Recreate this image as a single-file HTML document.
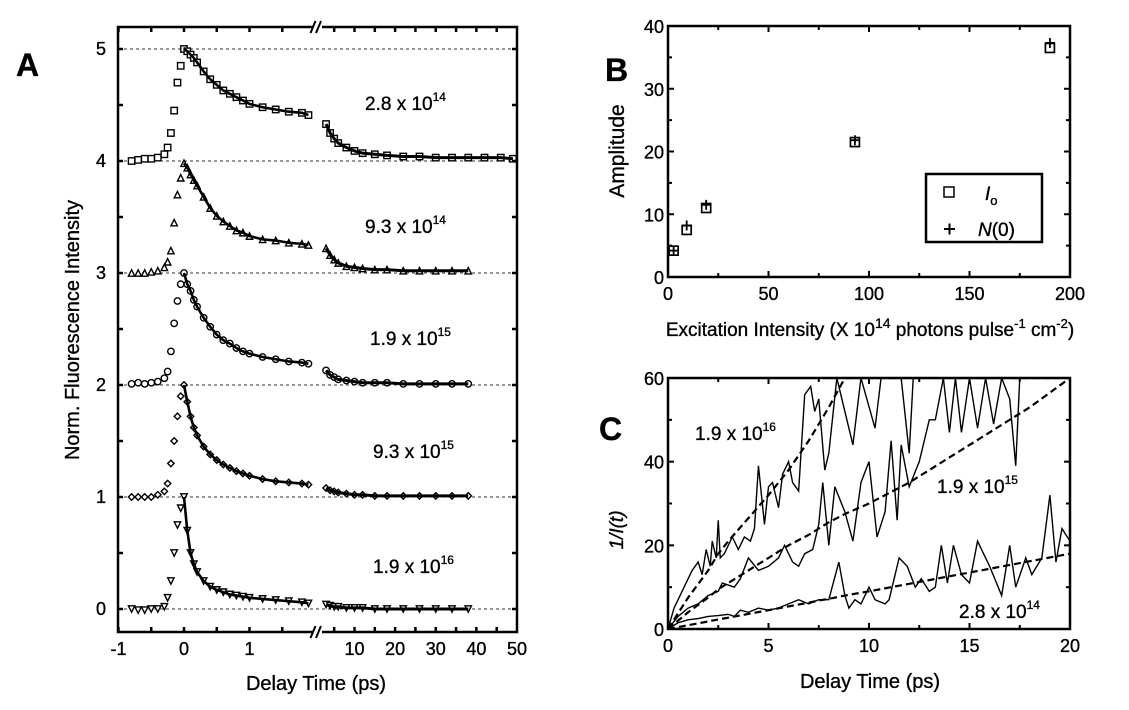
<!DOCTYPE html>
<html><head><meta charset="utf-8"><style>
html,body{margin:0;padding:0;background:#fff;}
svg{display:block;font-family:"Liberation Sans",Arial,sans-serif;}
svg text{stroke:#000;stroke-width:0.35px;}
</style></head><body>
<svg id="fig" width="1129" height="710" viewBox="0 0 1129 710" xmlns="http://www.w3.org/2000/svg">
<g id="pa"></g>
<g id="pb"></g>
<g id="pc"></g>
</svg>
<script>
// ---------- Panel A data ----------
const aTimesL = [-0.8,-0.7,-0.6,-0.5,-0.4,-0.3,-0.25,-0.2,-0.15,-0.1,-0.05,0,0.05,0.1,0.15,0.2,0.3,0.4,0.5,0.6,0.7,0.8,0.9,1.0,1.2,1.4,1.6,1.8,1.9];
const aTimesR = [3,4,5,6,8,10,12,15,18,22,26,30,34,38];
const aTimesRLong = [3,4,5,6,8,10,12,15,18,22,26,30,34,38,42,46,49];
const aOffsets = [4,3,2,1,0];
const aLabels = ["2.8 x 10","9.3 x 10","1.9 x 10","9.3 x 10","1.9 x 10"];
const aExps = ["14","14","15","15","16"];
const aMarkers = ["square","triangle","circle","diamond","itriangle"];
const aL_28e14 = [0,0.01,0.02,0.02,0.03,0.06,0.12,0.25,0.45,0.7,0.85,1.0,0.98,0.95,0.92,0.88,0.8,0.73,0.68,0.63,0.6,0.57,0.54,0.51,0.48,0.46,0.44,0.43,0.41];
const aR_28e14 = [0.33,0.25,0.2,0.16,0.12,0.09,0.07,0.06,0.05,0.04,0.04,0.03,0.03,0.03,0.03,0.03,0.02];
const aL_93e14 = [0,0,0,0.01,0.02,0.05,0.1,0.2,0.45,0.7,0.85,0.98,0.94,0.88,0.83,0.78,0.68,0.58,0.51,0.46,0.42,0.38,0.36,0.33,0.3,0.29,0.27,0.26,0.25];
const aR_93e14 = [0.22,0.16,0.12,0.09,0.06,0.05,0.04,0.03,0.03,0.02,0.02,0.02,0.02,0.02];
const aL_19e15 = [0.01,0.02,0.01,0.02,0.03,0.06,0.12,0.3,0.55,0.75,0.9,1.0,0.9,0.84,0.76,0.7,0.6,0.52,0.45,0.4,0.37,0.33,0.3,0.28,0.25,0.23,0.21,0.2,0.19];
const aR_19e15 = [0.13,0.09,0.07,0.05,0.04,0.03,0.02,0.02,0.02,0.01,0.01,0.01,0.01,0.01];
const aL_93e15 = [0,0,0,0,0.02,0.05,0.12,0.3,0.5,0.72,0.9,1.0,0.85,0.72,0.62,0.55,0.45,0.38,0.33,0.29,0.26,0.23,0.21,0.19,0.16,0.14,0.13,0.12,0.11];
const aR_93e15 = [0.08,0.06,0.05,0.04,0.03,0.02,0.02,0.01,0.01,0.01,0.01,0.01,0.01,0.01];
const aL_19e16 = [0,-0.01,-0.01,0,0,0.02,0.1,0.25,0.5,0.75,0.9,1.0,0.7,0.5,0.4,0.33,0.25,0.2,0.17,0.15,0.13,0.12,0.11,0.1,0.09,0.08,0.07,0.06,0.05];
const aR_19e16 = [0.04,0.03,0.02,0.02,0.01,0.01,0.01,0.0,0.0,0.0,0.0,0.0,0.0,0.0];
const aYTicks = [0,1,2,3,4,5];
const aXTicksL = [-1,0,1];
const aXTicksR = [10,20,30,40,50];

// ---------- Panel B data ----------
const bIntensity = [2.8,9.3,19,93,190];
const bI0 = [4.2,7.5,11,21.5,36.5];
const bN0 = [4.2,8.2,11.5,21.8,37.3];
const bXTicks = [0,50,100,150,200];
const bYTicks = [0,10,20,30,40];

// ---------- Panel C data ----------
const cT_28e14 = [0,0.5,1,1.5,2,2.5,3,3.3,3.6,4,4.5,5,5.5,6,6.5,7,7.5,8,8.5,8.8,9,9.3,9.6,10,10.3,10.8,11,11.5,11.9,12.3,12.6,13,13.3,13.6,13.9,14.2,14.6,15,15.4,16,16.6,17,17.3,17.8,18.1,18.6,19,19.3,19.6,20];
const cY_28e14 = [0,1.5,2.2,2.5,3,3.2,3.5,3,4.5,4,5,4.5,5,6,7,6,7,7,16,8,5,7,6,10,7,6,7,17,15,10,12,9,10,20,11,20,13,11,21,15,8,20,10,17,13,17,32,16,24,21];
const cT_19e15 = [0,0.5,1,1.5,2,2.5,2.7,3.3,3.6,4,4.5,5,5.5,5.8,6.2,6.5,6.8,7.2,7.5,7.7,8,8.3,8.8,9.2,9.6,10,10.4,10.8,11.1,11.4,11.6,12,12.5,13,13.3,13.7,14,14.3,14.6,15,15.4,15.8,16.2,16.6,17,17.3,17.5,18,20];
const cY_19e15 = [0,3,5,6,8,9,11,10,12,17,14,15,17,20,16,15,18,19,25,35,20,34,28,21,35,40,22,28,45,26,44,34,40,50,50,60,47,60,47,60,48,60,49,60,55,39,60,60,60];
const cT_19e16 = [0,0.3,0.6,0.9,1.2,1.5,1.7,1.9,2.1,2.2,2.4,2.5,2.6,2.8,3.2,3.5,3.8,4.1,4.3,4.5,4.8,5,5.2,5.5,5.7,6,6.2,6.5,6.8,7.1,7.3,7.5,7.8,8,8.4,9.2,9.6,10.3,10.6,11.6,12,12.2,13,14,15,16,17,18];
const cY_19e16 = [0,5,8,11,14,16,13,19,15,21,17,26,17,18,22,19,22,21,24,39,25,34,35,29,37,40,35,33,56,58,52,55,38,42,60,44,60,48,60,60,42,60,60,60,60,60,60,60];
const cFitT = [0,1,2,2.5,3,4,5,6,7,7.5,8,8.8,10,12,14,16,18,20];
const cFit_28e14 = [0,0.9,1.8,2.3,2.7,3.6,4.5,5.4,6.3,6.8,7.2,8,9,10.8,12.6,14.4,16.2,18];
const cFit_19e15 = [0,4,7.5,9.5,11,14,17,20,22.5,24,25.5,27.5,30,35,41,47,53,60];
const cFit_19e16 = [0,7.5,14,18,21,26.5,32,38,45,49,53,60,60,60,60,60,60,60];
const cXTicks = [0,5,10,15,20];
const cYTicks = [0,20,40,60];

const NS = "http://www.w3.org/2000/svg";
function mk(parent, tag, attrs, text){
  const e = document.createElementNS(NS, tag);
  for (const k in attrs) e.setAttribute(k, attrs[k]);
  if (text !== undefined) e.textContent = text;
  parent.appendChild(e);
  return e;
}
const F = '"Liberation Sans", Arial, sans-serif';

// ================= PANEL A =================
const pa = document.getElementById('pa');
const A = {l:118, r:517, t:27, b:632, y0:609, yu:112, brk1:314.5, brk2:322};
function axA(t){ return t <= 2 ? 184 + t*65.5 : A.brk2 + (t-2)*((A.r-A.brk2)/48); }
function ayA(v){ return A.y0 - v*A.yu; }

aOffsets.concat([5]).forEach(o=>{
  const ln = mk(pa,'line',{x1:A.l,x2:A.r,y1:ayA(o),y2:ayA(o),stroke:'#333','stroke-width':1,'stroke-dasharray':'3,3'});
  
  
});

function marker(g, type, x, y){
  const s = 3.2; let e;
  const st = {fill:'#fff',stroke:'#000','stroke-width':1.4};
  if (type==='square') e = mk(g,'rect',Object.assign({x:x-s,y:y-s,width:2*s,height:2*s},st));
  else if (type==='circle') e = mk(g,'circle',Object.assign({cx:x,cy:y,r:s},st));
  else if (type==='triangle') e = mk(g,'polygon',Object.assign({points:`${x},${y-s} ${x+s},${y+s} ${x-s},${y+s}`},st));
  else if (type==='itriangle') e = mk(g,'polygon',Object.assign({points:`${x},${y+s} ${x+s},${y-s} ${x-s},${y-s}`},st));
  else e = mk(g,'polygon',Object.assign({points:`${x},${y-s} ${x+s},${y} ${x},${y+s} ${x-s},${y}`},st));
  return e;
}

const aSeriesL = [aL_28e14,aL_93e14,aL_19e15,aL_93e15,aL_19e16];
const aSeriesR = [aR_28e14,aR_93e14,aR_19e15,aR_93e15,aR_19e16];
const aSeriesNames = ['2p8e14','9p3e14','1p9e15','9p3e15','1p9e16'];
aSeriesL.forEach((vals,i)=>{
  const g = mk(pa,'g',{});
  
  
  const off = aOffsets[i];
  const rT = i===0 ? aTimesRLong : aTimesR;
  const rV = aSeriesR[i];
  aTimesL.forEach((t,k)=>{
    const m = marker(g, aMarkers[i], axA(t), ayA(off+vals[k]));
    
    
  });
  rT.forEach((t,k)=>{
    const m = marker(g, aMarkers[i], axA(t), ayA(off+rV[k]));
    
    
  });
  let p1 = [];
  aTimesL.forEach((t,k)=>{ if (t>=0) p1.push(axA(t)+','+ayA(off+vals[k])); });
  const f1 = mk(g,'polyline',{points:p1.join(' '),fill:'none',stroke:'#000','stroke-width':2.6});
  
  
  let p2 = [];
  rT.forEach((t,k)=>{ p2.push(axA(t)+','+ayA(off+rV[k])); });
  const f2 = mk(g,'polyline',{points:p2.join(' '),fill:'none',stroke:'#000','stroke-width':3});
  
  
  const ly = [110,233,345,458,573][i];
  const tx = mk(g,'text',{x:[365,365,370,373,373][i],y:ly,'font-size':19,'font-family':F,fill:'#000'});
  
  
  tx.textContent = aLabels[i];
  mk(tx,'tspan',{dy:-9,'font-size':12},aExps[i]);
});

const frameA = mk(pa,'g',{});


mk(frameA,'polyline',{points:`${A.brk1-2},${A.t} ${A.l},${A.t} ${A.l},${A.b} ${A.brk1-2},${A.b}`,fill:'none',stroke:'#000','stroke-width':2.5});
mk(frameA,'polyline',{points:`${A.brk2},${A.t} ${A.r},${A.t} ${A.r},${A.b} ${A.brk2},${A.b}`,fill:'none',stroke:'#000','stroke-width':2.5});
[A.t,A.b].forEach(y=>{
  mk(frameA,'line',{x1:A.brk1-4,y1:y+6,x2:A.brk1+1,y2:y-6,stroke:'#000','stroke-width':2});
  mk(frameA,'line',{x1:A.brk2-6,y1:y+6,x2:A.brk2-1,y2:y-6,stroke:'#000','stroke-width':2});
});
function tickA(x, len){
  mk(frameA,'line',{x1:x,x2:x,y1:A.b,y2:A.b-len,stroke:'#000','stroke-width':2.5});
  mk(frameA,'line',{x1:x,x2:x,y1:A.t,y2:A.t+len,stroke:'#000','stroke-width':2.5});
}
[-1,-0.5,0,0.5,1,1.5].forEach(t=>tickA(axA(t), 5));
[5,10,15,20,25,30,35,40,45].forEach(t=>tickA(axA(t), 5));
[0,0.5,1,1.5,2,2.5,3,3.5,4,4.5,5].forEach(v=>{
  mk(frameA,'line',{x1:A.l,x2:A.l+5,y1:ayA(v),y2:ayA(v),stroke:'#000','stroke-width':2.5});
  mk(frameA,'line',{x1:A.r,x2:A.r-5,y1:ayA(v),y2:ayA(v),stroke:'#000','stroke-width':2.5});
});
aYTicks.forEach(v=>{
  const t = mk(pa,'text',{x:106,y:ayA(v)+6,'text-anchor':'end','font-size':18,'font-family':F},String(v));
  
  
});
aXTicksL.concat(aXTicksR).forEach(v=>{
  const t = mk(pa,'text',{x:axA(v),y:655,'text-anchor':'middle','font-size':18,'font-family':F},String(v));
  
  
});
let tA = mk(pa,'text',{x:316,y:690,'text-anchor':'middle','font-size':20,'font-family':F},'Delay Time (ps)');


tA = mk(pa,'text',{x:0,y:0,'text-anchor':'middle','font-size':20,'font-family':F,transform:'translate(79,330) rotate(-90)'},'Norm. Fluorescence Intensity');


tA = mk(pa,'text',{x:16,y:76,'font-size':32,'font-weight':'bold','font-family':F},'A');



// ================= PANEL B =================
const pb = document.getElementById('pb');
const B = {l:668,r:1070,t:26,b:277};
function bx(v){ return B.l + v*(B.r-B.l)/200; }
function by(v){ return B.b - v*(B.b-B.t)/40; }
let fb = mk(pb,'rect',{x:B.l,y:B.t,width:B.r-B.l,height:B.b-B.t,fill:'none',stroke:'#000','stroke-width':2.5});


for (let v=0; v<=200; v+=25){
  const len = v%50===0?6:4;
  mk(pb,'line',{x1:bx(v),x2:bx(v),y1:B.b,y2:B.b-len,stroke:'#000','stroke-width':2});
  mk(pb,'line',{x1:bx(v),x2:bx(v),y1:B.t,y2:B.t+len,stroke:'#000','stroke-width':2});
}
for (let v=0; v<=40; v+=5){
  const len = v%10===0?6:4;
  mk(pb,'line',{x1:B.l,x2:B.l+len,y1:by(v),y2:by(v),stroke:'#000','stroke-width':2});
  mk(pb,'line',{x1:B.r,x2:B.r-len,y1:by(v),y2:by(v),stroke:'#000','stroke-width':2});
}
bXTicks.forEach(v=>{
  const t = mk(pb,'text',{x:bx(v),y:300,'text-anchor':'middle','font-size':18,'font-family':F},String(v));
  
  
});
bYTicks.forEach(v=>{
  const t = mk(pb,'text',{x:B.l-4,y:by(v)+7,'text-anchor':'end','font-size':18,'font-family':F},String(v));
  
  
});
bIntensity.forEach((x,i)=>{
  const s = mk(pb,'rect',{x:bx(x)-4.5,y:by(bI0[i])-4.5,width:9,height:9,fill:'none',stroke:'#000','stroke-width':1.7});
  
  
  const p = mk(pb,'path',{d:`M${bx(x)-5},${by(bN0[i])} h10 M${bx(x)},${by(bN0[i])-5} v10`,stroke:'#000','stroke-width':1.8,fill:'none'});
  
  
});
const lg = mk(pb,'g',{});


mk(lg,'rect',{x:926,y:174,width:116,height:68,fill:'#fff',stroke:'#000','stroke-width':2.5});
mk(lg,'rect',{x:944,y:187,width:10,height:10,fill:'none',stroke:'#000','stroke-width':1.5});
let lt = mk(lg,'text',{x:985,y:200,'font-size':19,'font-style':'italic','font-family':F},'I');


mk(lt,'tspan',{dy:5,'font-size':13,'font-style':'normal'},'o');
mk(lg,'path',{d:'M944,229 h11 M949.5,223.5 v11',stroke:'#000','stroke-width':2});
lt = mk(lg,'text',{x:978,y:236,'font-size':19,'font-family':F},'');


mk(lt,'tspan',{'font-style':'italic'},'N');
mk(lt,'tspan',{},'(0)');
let tb = mk(pb,'text',{x:870,y:336,'text-anchor':'middle','font-size':19,'font-family':F},'Excitation Intensity (X 10');


mk(tb,'tspan',{dy:-8,'font-size':14},'14');
mk(tb,'tspan',{dy:8},' photons pulse');
mk(tb,'tspan',{dy:-8,'font-size':13},'-1');
mk(tb,'tspan',{dy:8},' cm');
mk(tb,'tspan',{dy:-8,'font-size':13},'-2');
mk(tb,'tspan',{dy:8},')');
tb = mk(pb,'text',{x:0,y:0,'text-anchor':'middle','font-size':21,'font-family':F,transform:'translate(624,151) rotate(-90)'},'Amplitude');


tb = mk(pb,'text',{x:605,y:81,'font-size':32,'font-weight':'bold','font-family':F},'B');



// ================= PANEL C =================
const pc = document.getElementById('pc');
const C = {l:668,r:1070,t:378,b:629};
function cx(v){ return C.l + v*(C.r-C.l)/20; }
function cy(v){ return C.b - v*(C.b-C.t)/60; }
mk(pc,'defs',{}).innerHTML = '<clipPath id="clipC"><rect x="668" y="378" width="402" height="251"/></clipPath>';
const cg = mk(pc,'g',{'clip-path':'url(#clipC)'});
function series(ts, ys, name, dash){
  const pts = ts.map((t,k)=>cx(t)+','+cy(ys[k])).join(' ');
  const e = mk(cg,'polyline',{points:pts,fill:'none',stroke:'#000','stroke-width':dash?2.2:1.4,'stroke-dasharray':dash?'7,4':'none'});
  
  
}
series(cT_28e14,cY_28e14,'data-2p8e14',false);
series(cT_19e15,cY_19e15,'data-1p9e15',false);
series(cT_19e16,cY_19e16,'data-1p9e16',false);
series(cFitT,cFit_28e14,'fit-2p8e14',true);
series(cFitT,cFit_19e15,'fit-1p9e15',true);
series(cFitT,cFit_19e16,'fit-1p9e16',true);
let fc = mk(pc,'rect',{x:C.l,y:C.t,width:C.r-C.l,height:C.b-C.t,fill:'none',stroke:'#000','stroke-width':2.5});


for (let v=0; v<=20; v+=2.5){
  const len = v%5===0?6:4;
  mk(pc,'line',{x1:cx(v),x2:cx(v),y1:C.b,y2:C.b-len,stroke:'#000','stroke-width':2});
  mk(pc,'line',{x1:cx(v),x2:cx(v),y1:C.t,y2:C.t+len,stroke:'#000','stroke-width':2});
}
for (let v=0; v<=60; v+=10){
  const len = v%20===0?6:4;
  mk(pc,'line',{x1:C.l,x2:C.l+len,y1:cy(v),y2:cy(v),stroke:'#000','stroke-width':2});
  mk(pc,'line',{x1:C.r,x2:C.r-len,y1:cy(v),y2:cy(v),stroke:'#000','stroke-width':2});
}
cXTicks.forEach(v=>{
  const t = mk(pc,'text',{x:cx(v),y:652,'text-anchor':'middle','font-size':18,'font-family':F},String(v));
  
  
});
cYTicks.forEach(v=>{
  const t = mk(pc,'text',{x:C.l-4,y:cy(v)+7,'text-anchor':'end','font-size':18,'font-family':F},String(v));
  
  
});
[[695,440,'1.9 x 10','16','label-1p9e16'],[937,493,'1.9 x 10','15','label-1p9e15'],[959,618,'2.8 x 10','14','label-2p8e14']].forEach(a=>{
  const t = mk(pc,'text',{x:a[0],y:a[1],'font-size':19,'font-family':F},a[2]);
  
  
  mk(t,'tspan',{dy:-9,'font-size':12},a[3]);
});
let tc = mk(pc,'text',{x:870,y:688,'text-anchor':'middle','font-size':20,'font-family':F},'Delay Time (ps)');


tc = mk(pc,'text',{x:0,y:0,'text-anchor':'middle','font-size':19,'font-style':'italic','font-family':F,transform:'translate(623,530) rotate(-90)'},'1/I(t)');


tc = mk(pc,'text',{x:599,y:440,'font-size':32,'font-weight':'bold','font-family':F},'C');


</script>
</body></html>
